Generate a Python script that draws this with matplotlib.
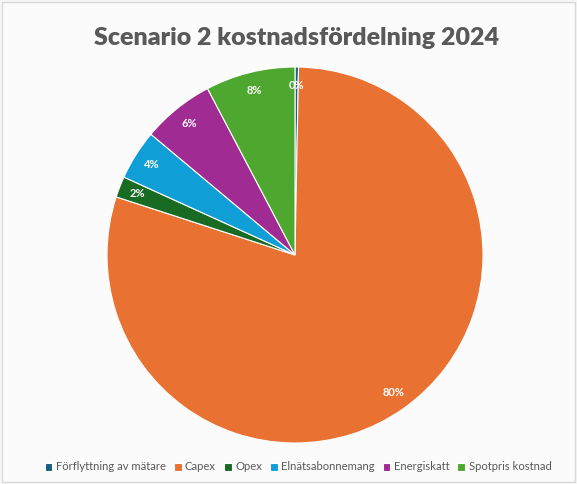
import matplotlib
matplotlib.use("Agg")
import matplotlib.pyplot as plt
from matplotlib.patches import Rectangle

categories = ["Förflyttning av mätare", "Capex", "Opex", "Elnätsabonnemang", "Energiskatt", "Spotpris kostnad"]
values = [0.3, 79.7, 1.8, 4.3, 6.2, 7.7]
colors = ["#156082", "#E97132", "#196B24", "#0F9ED5", "#A02B93", "#4EA72E"]
title = "Scenario 2 kostnadsfördelning 2024"

plt.rcParams['font.family'] = ['Lato', 'DejaVu Sans']

fig = plt.figure(figsize=(5.77, 4.84), dpi=100)
fig.patch.set_facecolor("#f7f7f7")
fig.patches.append(Rectangle((0.004, 0.004), 0.992, 0.992, transform=fig.transFigure,
                             facecolor="#fbfbfb", edgecolor="#d9d9d9", linewidth=1.0, zorder=-10))

R = 188
ax = fig.add_axes([(295 - R) / 577, 1 - (255 + R) / 484, 2 * R / 577, 2 * R / 484])
ax.set_facecolor("none")
ax.set_zorder(5)
wedges, texts, autotexts = ax.pie(
    values, colors=colors, startangle=90, counterclock=False,
    autopct=lambda p: f"{p:.0f}%", pctdistance=0.9,
    wedgeprops=dict(edgecolor="white", linewidth=0.8),
    textprops=dict(color="white", fontsize=8, fontweight="bold"))
ax.set_xlim(-1, 1)
ax.set_ylim(-1, 1)
ax.set_aspect("equal")

fig.text(297 / 577, 1 - 38 / 484, title, ha="center", va="center",
         fontsize=18, fontweight="heavy", color="#595959")

leg = fig.legend(wedges, categories, loc="center", bbox_to_anchor=(298 / 577, 1 - 467 / 484),
                 ncol=6, frameon=False, fontsize=8.1, handlelength=0.7, handleheight=0.7,
                 handletextpad=0.3, columnspacing=0.7, labelcolor="#595959")

fig.savefig("out.png", dpi=100, facecolor=fig.get_facecolor())
